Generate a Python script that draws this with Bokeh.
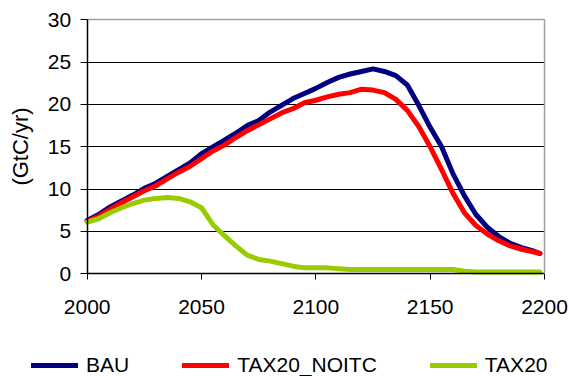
from bokeh.plotting import figure
from bokeh.models import FixedTicker, Legend, LegendItem, Range1d, LinearAxis
from bokeh.embed import file_html
from bokeh.resources import INLINE

years = [2000, 2005, 2010, 2015, 2020, 2025, 2030, 2035, 2040, 2045,
         2050, 2055, 2060, 2065, 2070, 2075, 2080, 2085, 2090, 2095,
         2100, 2105, 2110, 2115, 2120, 2125, 2130, 2135, 2140, 2145,
         2150, 2155, 2160, 2165, 2170, 2175, 2180, 2185, 2190, 2195, 2198]
bau = [6.3, 7.0, 7.9, 8.6, 9.3, 10.1, 10.7, 11.5, 12.3, 13.1,
       14.2, 15.0, 15.8, 16.6, 17.5, 18.1, 19.1, 19.9, 20.7, 21.3,
       21.9, 22.6, 23.2, 23.6, 23.9, 24.2, 23.9, 23.4, 22.3, 19.9,
       17.3, 15.0, 11.8, 9.2, 7.0, 5.5, 4.4, 3.6, 3.1, 2.7, 2.4]
tax20_noitc = [6.2, 6.8, 7.6, 8.4, 9.1, 9.8, 10.4, 11.2, 12.0, 12.7,
               13.6, 14.5, 15.2, 16.1, 16.9, 17.6, 18.3, 19.0, 19.5, 20.2,
               20.5, 20.9, 21.2, 21.4, 21.8, 21.7, 21.4, 20.6, 19.3, 17.4,
               15.0, 12.3, 9.5, 7.2, 5.7, 4.7, 3.9, 3.3, 2.9, 2.6, 2.4]
tax20 = [6.1, 6.5, 7.2, 7.8, 8.3, 8.7, 8.9, 9.0, 8.9, 8.5,
         7.8, 5.8, 4.5, 3.3, 2.2, 1.7, 1.5, 1.2, 0.9, 0.7,
         0.7, 0.7, 0.6, 0.5, 0.5, 0.5, 0.5, 0.5, 0.5, 0.5,
         0.5, 0.5, 0.5, 0.3, 0.2, 0.2, 0.2, 0.2, 0.2, 0.2, 0.2]
series_names = ["BAU", "TAX20_NOITC", "TAX20"]
colors = ["#000080", "#FF0000", "#99CC00"]
x_ticks = [2000, 2050, 2100, 2150, 2200]
y_ticks = [0, 5, 10, 15, 20, 25, 30]
grid_ticks = [5, 10, 15, 20, 25]
X_MIN, X_MAX = 2000, 2200
Y_MIN, Y_MAX = 0, 30

FONT = "Liberation Sans"
LW = 5

# canvas and plot-area geometry (pixels)
W, H = 569, 376
PL, PR, PT, PB = 86.7, 544.0, 19.3, 273.3
sx = (PR - PL) / (X_MAX - X_MIN)
sy = (PB - PT) / (Y_MAX - Y_MIN)
x_range = Range1d(X_MIN - PL / sx, X_MAX + (W - PR) / sx)
y_range = Range1d(Y_MIN - (H - PB) / sy, Y_MAX + PT / sy)

p = figure(width=W, height=H, output_backend="svg", toolbar_location=None,
           x_range=x_range, y_range=y_range, x_axis_type=None, y_axis_type=None,
           min_border=0, min_border_left=0, min_border_right=0,
           min_border_top=0, min_border_bottom=0)
p.outline_line_color = None
p.background_fill_color = "white"
p.border_fill_color = "white"

# horizontal grid lines across the plot area only (drawn as plain axis lines, under the data)
for t in grid_ticks:
    gl = LinearAxis(fixed_location=t, bounds=(X_MIN, X_MAX), ticker=FixedTicker(ticks=[]),
                    axis_line_color="black", axis_line_width=1,
                    major_tick_line_color=None, minor_tick_line_color=None,
                    level="underlay")
    p.add_layout(gl, "above")

# gray top and right border of the plot area
top = LinearAxis(fixed_location=Y_MAX, bounds=(X_MIN, X_MAX), ticker=FixedTicker(ticks=[]),
                 axis_line_color="#A0A0A0", axis_line_width=1.5,
                 major_tick_line_color=None, minor_tick_line_color=None)
right = LinearAxis(fixed_location=X_MAX, bounds=(Y_MIN, Y_MAX), ticker=FixedTicker(ticks=[]),
                   axis_line_color="#A0A0A0", axis_line_width=1.5,
                   major_tick_line_color=None, minor_tick_line_color=None)
p.add_layout(top, "above")
p.add_layout(right, "right")

xaxis = LinearAxis(fixed_location=Y_MIN, bounds=(X_MIN, X_MAX), ticker=FixedTicker(ticks=x_ticks))
yaxis = LinearAxis(fixed_location=X_MIN, bounds=(Y_MIN, Y_MAX), ticker=FixedTicker(ticks=y_ticks))
for ax in (xaxis, yaxis):
    ax.axis_line_color = "black"
    ax.axis_line_width = 1.5
    ax.major_tick_line_color = "black"
    ax.major_tick_in = 0
    ax.minor_tick_line_color = None
    ax.major_label_text_font = FONT
    ax.major_label_text_font_size = "21px"
    ax.major_label_text_color = "black"
xaxis.major_tick_out = 6
xaxis.major_label_standoff = 20
yaxis.major_tick_out = 7
yaxis.major_label_standoff = 9
yaxis.axis_label = "(GtC/yr)"
yaxis.axis_label_text_font = FONT
yaxis.axis_label_text_font_style = "normal"
yaxis.axis_label_text_font_size = "22px"
yaxis.axis_label_text_color = "black"
yaxis.axis_label_standoff = 12
p.add_layout(xaxis, "below")
p.add_layout(yaxis, "left")

renderers = []
for vals, c in zip([bau, tax20_noitc, tax20], colors):
    r = p.line(years, vals, line_color=c, line_width=LW, line_join="round", line_cap="round")
    renderers.append(r)

lg = Legend(items=[LegendItem(label=n, renderers=[r]) for n, r in zip(series_names, renderers)],
            location=(31, -1), orientation="horizontal", border_line_color=None,
            background_fill_alpha=0, padding=0, margin=0, spacing=53,
            glyph_width=47, glyph_height=10, label_standoff=8, label_height=10,
            label_text_font=FONT, label_text_font_size="21px", label_text_color="black")
p.add_layout(lg, "center")

open("out.html", "w").write(file_html(p, INLINE))
